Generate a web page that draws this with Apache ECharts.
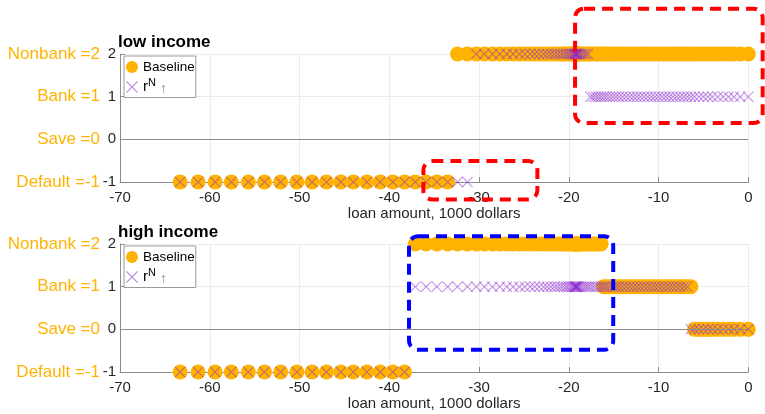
<!DOCTYPE html>
<html><head><meta charset="utf-8">
<script src="https://cdn.jsdelivr.net/npm/echarts@6/dist/echarts.min.js"></script>
<style>html,body{margin:0;padding:0;background:#fff}#c{width:765px;height:414px}</style>
</head><body><div id="c"></div>
<script>
// loan grid (1000 dollars)
const loanGrid = [
 -63.3, -61.3, -59.4, -57.6, -55.7, -53.9, -52.1, -50.3, -48.6, -47.0,
 -45.4, -44.0, -42.5, -41.0, -39.6, -38.3, -37.1, -35.9, -34.7, -33.5,
 -32.4, -31.3, -30.3, -29.4, -28.5, -27.7, -26.9, -26.2, -25.5, -24.9,
 -24.3, -23.8, -23.3, -22.8, -22.4, -22.0, -21.6, -21.25, -20.9, -20.6,
 -20.3, -20.05, -19.8, -19.6, -19.45, -19.35, -19.28, -19.22, -19.17, -19.12,
 -19.05, -18.95, -18.8, -18.6, -18.35, -18.1, -17.85, -17.6, -17.3, -17.0,
 -16.7, -16.4, -16.1, -15.8, -15.45, -15.1, -14.75, -14.4, -14.0, -13.6,
 -13.2, -12.8, -12.4, -12.0, -11.6, -11.2, -10.8, -10.4, -10.0, -9.6,
 -9.2, -8.8, -8.4, -8.0, -7.6, -7.2, -6.8, -6.4, -6.0, -5.5,
 -5.0, -4.5, -4.0, -3.4, -2.8, -2.2, -1.6, -0.9, 0.0
];
// choices: Nonbank=2, Bank=1, Save=0, Default=-1
const lowBaseline = [
 -1,-1,-1,-1,-1,-1,-1,-1,-1,-1,
 -1,-1,-1,-1,-1,-1,-1,-1,-1,-1,
 2,2,2,2,2,2,2,2,2,2,
 2,2,2,2,2,2,2,2,2,2,
 2,2,2,2,2,2,2,2,2,2,
 2,2,2,2,2,2,2,2,2,2,
 2,2,2,2,2,2,2,2,2,2,
 2,2,2,2,2,2,2,2,2,2,
 2,2,2,2,2,2,2,2,2,2,
 2,2,2,2,2,2,2,2,2
];
const lowRN = [
 -1,-1,-1,-1,-1,-1,-1,-1,-1,-1,
 -1,-1,-1,-1,-1,-1,-1,-1,-1,-1,
 -1,-1,2,2,2,2,2,2,2,2,
 2,2,2,2,2,2,2,2,2,2,
 2,2,2,2,2,2,2,2,2,2,
 2,2,2,2,2,2,2,1,1,1,
 1,1,1,1,1,1,1,1,1,1,
 1,1,1,1,1,1,1,1,1,1,
 1,1,1,1,1,1,1,1,1,1,
 1,1,1,1,1,1,1,1,1
];
const highBaseline = [
 -1,-1,-1,-1,-1,-1,-1,-1,-1,-1,
 -1,-1,-1,-1,-1,-1,2,2,2,2,
 2,2,2,2,2,2,2,2,2,2,
 2,2,2,2,2,2,2,2,2,2,
 2,2,2,2,2,2,2,2,2,2,
 2,2,2,2,2,2,2,2,2,2,
 2,2,1,1,1,1,1,1,1,1,
 1,1,1,1,1,1,1,1,1,1,
 1,1,1,1,1,1,1,1,0,0,
 0,0,0,0,0,0,0,0,0
];
const highRN = [
 -1,-1,-1,-1,-1,-1,-1,-1,-1,-1,
 -1,-1,-1,-1,-1,-1,1,1,1,1,
 1,1,1,1,1,1,1,1,1,1,
 1,1,1,1,1,1,1,1,1,1,
 1,1,1,1,1,1,1,1,1,1,
 1,1,1,1,1,1,1,1,1,1,
 1,1,1,1,1,1,1,1,1,1,
 1,1,1,1,1,1,1,1,1,1,
 1,1,1,1,1,1,1,0,0,0,
 0,0,0,0,0,0,0,0,0
];
const xMin = -70, xMax = 0, xStep = 10;
const yMin = -1, yMax = 2, yStep = 1;
const choiceLabels = {'2':'Nonbank =2','1':'Bank =1','0':'Save =0','-1':'Default =-1'};
const panelTitles = ['low income', 'high income'];
const xAxisTitle = 'loan amount, 1000 dollars';
const seriesNames = ['Baseline', 'rN'];
// annotation boxes: [panel, xLeft, yBottom, xRight, yTop, color]
const annotBoxes = [
  [0, -19.3, 0.38, 1.6, 3.06, '#ff0000'],
  [0, -36.2, -1.41, -23.5, -0.51, '#ff0000'],
  [1, -37.8, -0.48, -15.05, 2.18, '#0000ff']
];

const FONT = 'Liberation Sans, Arial, Helvetica, sans-serif';
const ORANGE = '#FFB300';
const CROSS_COLOR = 'rgba(140,40,205,0.5)';
const crossPath = 'path://M0,0.7L0.7,0L5,4.3L9.3,0L10,0.7L5.7,5L10,9.3L9.3,10L5,5.7L0.7,10L0,9.3L4.3,5Z';
const AXIS_COLOR = '#8c8c8c';

const chart = echarts.init(document.getElementById('c'), null, {renderer: 'canvas'});
const gridTops = [54, 244];
const gridH = 128;

function mk(choices) { return loanGrid.map((x, i) => [x, choices[i]]); }

const panels = [[lowBaseline, lowRN], [highBaseline, highRN]];

const option = {
  animation: false,
  backgroundColor: '#fff',
  textStyle: {fontFamily: FONT},
  title: panelTitles.map((t, i) => ({
    text: t, left: 118, top: gridTops[i] - 20, padding: 0,
    textStyle: {fontSize: 17, fontWeight: 'bold', color: '#000', fontFamily: FONT}
  })),
  legend: [0, 1].map(i => ({
    left: 124, top: gridTops[i] + 2, orient: 'vertical',
    padding: [4, 1, 1, 2], itemGap: 3, itemWidth: 12, itemHeight: 12,
    borderColor: '#999', borderWidth: 1, backgroundColor: '#fff',
    selectedMode: false,
    data: [{name: 'Baseline', icon: 'circle', itemStyle: {color: ORANGE}},
           {name: 'rN', icon: crossPath, itemStyle: {color: 'rgba(160,80,220,0.7)'}}],
    formatter: n => n === 'rN' ? '{r|r}{sup|N} {arr|↑}' : n,
    textStyle: {fontSize: 13.5, color: '#000', fontFamily: FONT,
      rich: {r: {fontSize: 15, color: '#000', fontFamily: FONT},
             sup: {fontSize: 11, color: '#000', padding: [0, 0, 9, 0], fontFamily: FONT},
             arr: {fontSize: 14, color: '#888', padding: [5, 0, 0, 0], fontFamily: FONT}}}
  })),
  grid: gridTops.map(t => ({left: 120, right: 16.7, top: t, height: gridH})),
  xAxis: [0, 1].map(i => ({
    type: 'value', gridIndex: i, min: xMin, max: xMax, interval: xStep,
    name: xAxisTitle, nameLocation: 'middle', nameGap: 24,
    nameTextStyle: {fontSize: 15, color: '#262626', fontFamily: FONT},
    axisLine: {show: true, onZero: false, lineStyle: {color: AXIS_COLOR}},
    axisTick: {show: true, inside: true, length: 5, lineStyle: {color: AXIS_COLOR}},
    axisLabel: {fontSize: 15, color: '#262626', margin: 8, fontFamily: FONT},
    splitLine: {show: true, lineStyle: {color: '#ebebeb'}}
  })),
  yAxis: [0, 1].map(i => ({
    type: 'value', gridIndex: i, min: yMin, max: yMax, interval: yStep,
    axisLine: {show: true, onZero: false, lineStyle: {color: AXIS_COLOR}},
    axisTick: {show: true, inside: true, length: 5, lineStyle: {color: AXIS_COLOR}},
    axisLabel: {
      margin: 4,
      formatter: v => '{o|' + choiceLabels[String(v)] + '}{n|' + v + '}',
      rich: {
        o: {color: ORANGE, fontSize: 17, fontFamily: FONT},
        n: {color: '#262626', fontSize: 15, width: 16, align: 'right', fontFamily: FONT}
      }
    },
    splitLine: {show: true, lineStyle: {color: '#ebebeb'}}
  })),
  series: []
};

panels.forEach((pair, i) => {
  option.series.push({
    name: seriesNames[0], type: 'scatter', xAxisIndex: i, yAxisIndex: i,
    data: mk(pair[0]), symbol: 'circle', symbolSize: 15,
    itemStyle: {color: ORANGE, opacity: 1}, silent: true,
    markLine: {silent: true, symbol: 'none', label: {show: false},
      lineStyle: {color: AXIS_COLOR, type: 'solid', width: 1},
      data: [{yAxis: 0}]}
  });
  option.series.push({
    name: seriesNames[1], type: 'scatter', xAxisIndex: i, yAxisIndex: i,
    data: mk(pair[1]), symbol: crossPath, symbolSize: 11,
    itemStyle: {color: CROSS_COLOR, opacity: 1}, silent: true
  });
});

chart.setOption(option);

const graphics = annotBoxes.map(b => {
  const p1 = chart.convertToPixel({xAxisIndex: b[0], yAxisIndex: b[0]}, [b[1], b[4]]);
  const p2 = chart.convertToPixel({xAxisIndex: b[0], yAxisIndex: b[0]}, [b[3], b[2]]);
  return {
    type: 'rect', silent: true, z: 100,
    shape: {x: p1[0], y: p1[1], width: p2[0] - p1[0], height: p2[1] - p1[1], r: 9},
    style: {fill: 'none', stroke: b[5], lineWidth: 4, lineDash: [11, 7]}
  };
});
chart.setOption({graphic: graphics});
</script>
</body></html>
